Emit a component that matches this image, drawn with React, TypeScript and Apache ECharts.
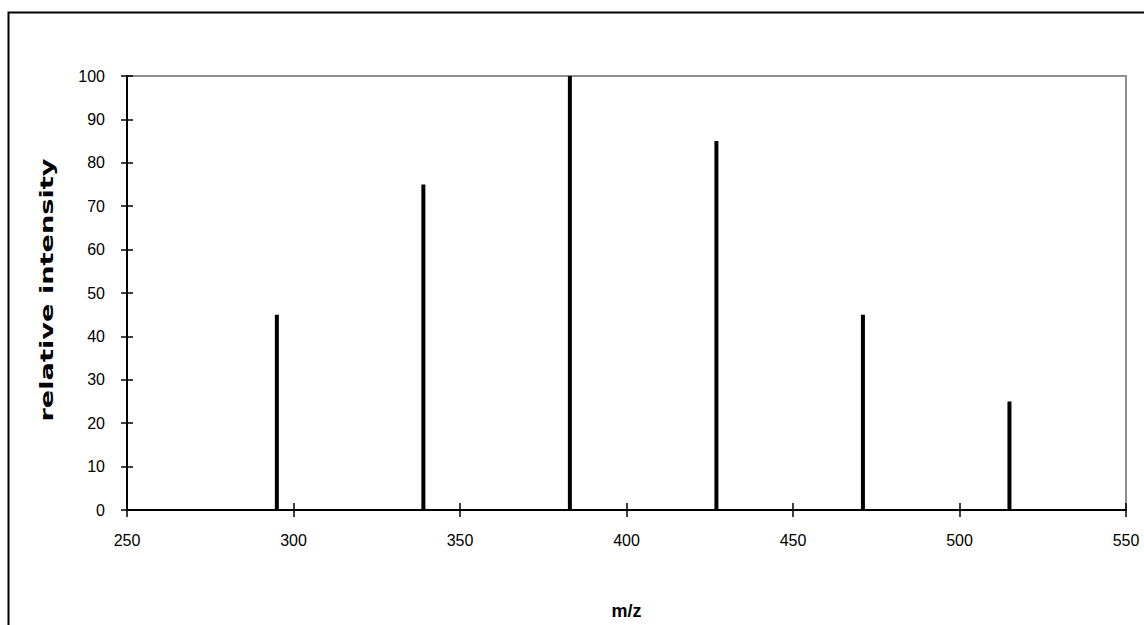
import React, { useEffect, useRef } from "react";
import * as echarts from "echarts";

const mzValues = [295, 339, 383, 427, 471, 515];
const intensities = [45, 75, 100, 85, 45, 25];
const xTicks = { min: 250, max: 550, interval: 50 };
const yTicks = { min: 0, max: 100, interval: 10 };
const xTitle = "m/z";
const yTitle = "relative intensity";

export default function App() {
  const ref = useRef<HTMLDivElement>(null);
  useEffect(() => {
    if (!ref.current) return;
    const chart = echarts.init(ref.current, null, { renderer: "svg" });
    const font = "Liberation Sans";
    const baseX = {
      type: "value",
      min: xTicks.min,
      max: xTicks.max,
      interval: xTicks.interval,
      position: "bottom",
      splitLine: { show: false },
    };
    const baseY = {
      type: "value",
      min: yTicks.min,
      max: yTicks.max,
      interval: yTicks.interval,
      position: "left",
      splitLine: { show: false },
    };
    chart.setOption({
      animation: false,
      backgroundColor: "#fff",
      grid: {
        left: 127,
        right: 18,
        top: 76,
        bottom: 114,
        show: true,
        borderColor: "#8e8e8e",
        borderWidth: 2,
        backgroundColor: "transparent",
      },
      graphic: [
        {
          type: "rect",
          shape: { x: 8.5, y: 12.5, width: 1400, height: 900 },
          style: { fill: "none", stroke: "#000", lineWidth: 2 },
          silent: true,
        },
        {
          type: "text",
          x: 47,
          y: 290,
          rotation: Math.PI / 2,
          scaleX: 1.6,
          scaleY: 1.03,
          style: {
            text: yTitle,
            font: "bold 17px 'DejaVu Sans'",
            fill: "#000",
            textAlign: "center",
            textVerticalAlign: "middle",
          },
          silent: true,
        },
      ],
      xAxis: [
        {
          ...baseX,
          name: xTitle,
          nameLocation: "middle",
          nameGap: 92,
          nameTextStyle: { fontFamily: font, fontWeight: "bold", fontSize: 18, color: "#000" },
          axisLine: { show: true, onZero: false, lineStyle: { color: "#000", width: 2 } },
          axisTick: { show: true, inside: false, length: 7, lineStyle: { color: "#000", width: 1.5 } },
          axisLabel: { fontFamily: font, fontSize: 16, color: "#000", margin: 22 },
        },
        {
          ...baseX,
          axisLine: { show: false },
          axisTick: { show: true, inside: true, length: 7, lineStyle: { color: "#000", width: 1.5 } },
          axisLabel: { show: false },
        },
      ],
      yAxis: [
        {
          ...baseY,
          axisLine: { show: true, onZero: false, lineStyle: { color: "#000", width: 2 } },
          axisTick: { show: true, inside: false, length: 6, lineStyle: { color: "#000", width: 1.5 } },
          axisLabel: { fontFamily: font, fontSize: 16, color: "#000", margin: 22 },
        },
        {
          ...baseY,
          axisLine: { show: false },
          axisTick: { show: true, inside: true, length: 6, lineStyle: { color: "#000", width: 1.5 } },
          axisLabel: { show: false },
        },
      ],
      series: [
        {
          type: "bar",
          xAxisIndex: 0,
          yAxisIndex: 0,
          barWidth: 4,
          itemStyle: { color: "#000" },
          data: mzValues.map((m, i) => [m, intensities[i]]),
        },
      ],
    });
    return () => chart.dispose();
  }, []);
  return (
    <div
      ref={ref}
      style={{ position: "absolute", left: 0, top: 0, width: 1144, height: 625 }}
    />
  );
}
